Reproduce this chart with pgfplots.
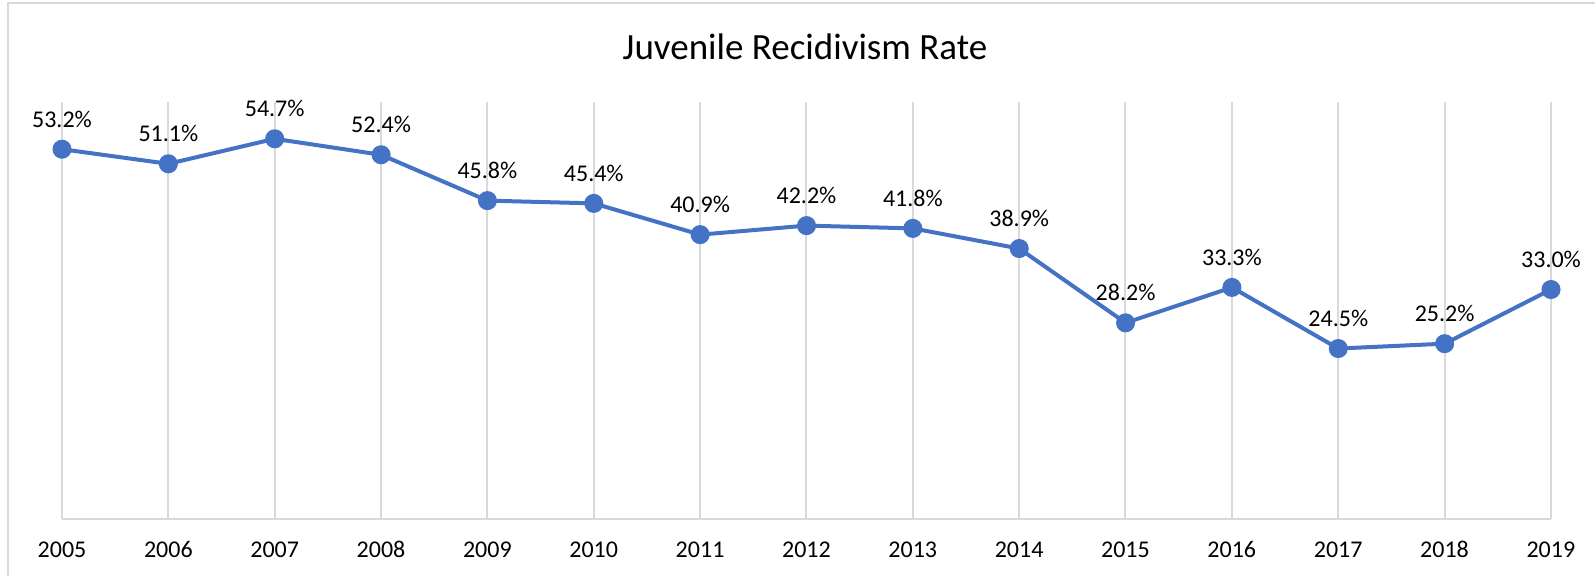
\documentclass[border=0pt]{standalone}
\usepackage{fontspec}
\setmainfont{Carlito}
\usepackage{pgfplots}
\pgfplotsset{compat=1.18}
\definecolor{xlblue}{HTML}{4472C4}
\definecolor{gridgray}{HTML}{D9D9D9}
\begin{document}
\begin{tikzpicture}
\useasboundingbox (0,0) rectangle (797.5pt,288pt);
\draw[gridgray, line width=1pt] (4pt,0) -- (4pt,286.5pt) -- (797.5pt,286.5pt);
\node[font=\fontsize{18.5}{22}\selectfont, anchor=center] at (402.5pt,264.5pt) {Juvenile Recidivism Rate};
\begin{axis}[
  at={(31pt,28.65pt)}, anchor=south west,
  scale only axis, width=744.5pt, height=208.35pt,
  xmin=2005, xmax=2019, ymin=0, ymax=60,
  axis y line=none, axis x line*=bottom,
  x axis line style={gridgray, line width=1pt, -},
  xtick={2005,...,2019},
  xticklabels={2005,2006,2007,2008,2009,2010,2011,2012,2013,2014,2015,2016,2017,2018,2019},
  major tick length=0pt,
  xmajorgrids, grid style={gridgray, line width=1pt},
  xticklabel style={font=\fontsize{12}{14}\selectfont, anchor=base, yshift=-19.3pt},
  clip=false,
]
\addplot[xlblue, line width=2pt, mark=*, mark size=3.75pt, mark options={fill=xlblue, draw=xlblue},
  point meta=explicit symbolic,
  nodes near coords={\pgfplotspointmeta\%},
  every node near coord/.append style={font=\fontsize{12}{14}\selectfont, text=black, anchor=center, yshift=15pt, inner sep=0pt}]
coordinates {
(2005,53.2) [53.2]
(2006,51.1) [51.1]
(2007,54.7) [54.7]
(2008,52.4) [52.4]
(2009,45.8) [45.8]
(2010,45.4) [45.4]
(2011,40.9) [40.9]
(2012,42.2) [42.2]
(2013,41.8) [41.8]
(2014,38.9) [38.9]
(2015,28.2) [28.2]
(2016,33.3) [33.3]
(2017,24.5) [24.5]
(2018,25.2) [25.2]
(2019,33.0) [33.0]
};
\end{axis}
\end{tikzpicture}
\end{document}
